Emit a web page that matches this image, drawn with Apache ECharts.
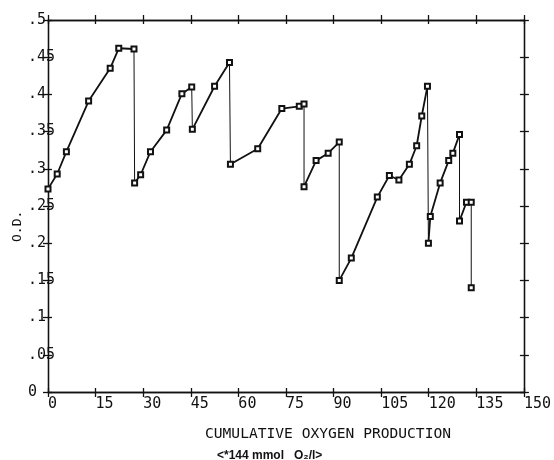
<!DOCTYPE html>
<html>
<head>
<meta charset="utf-8">
<script src="https://cdn.jsdelivr.net/npm/echarts@6/dist/echarts.min.js"></script>
<style>html,body{margin:0;padding:0;background:#fff;}#c{width:554px;height:460px;}</style>
</head>
<body>
<div id="c"></div>
<script>
// Cumulative oxygen production (x) and optical density (y)
const xVals = [0, 2.9, 5.8, 12.8, 19.6, 22.3, 27.1, 27.3, 29.2, 32.3, 37.4, 42.2, 45.3, 45.5, 52.5, 57.2, 57.5, 66.1, 73.7, 79.2, 80.7, 80.7, 84.5, 88.3, 91.8, 91.8, 95.6, 103.8, 107.6, 110.6, 113.9, 116.2, 117.8, 119.6, 119.9, 120.5, 123.6, 126.3, 127.6, 129.7, 129.7, 131.9, 133.4, 133.4];
const odVals = [0.273, 0.293, 0.323, 0.391, 0.435, 0.462, 0.461, 0.281, 0.292, 0.323, 0.352, 0.401, 0.410, 0.353, 0.411, 0.443, 0.306, 0.327, 0.381, 0.384, 0.387, 0.276, 0.311, 0.321, 0.336, 0.150, 0.180, 0.262, 0.291, 0.285, 0.306, 0.331, 0.371, 0.411, 0.200, 0.236, 0.281, 0.311, 0.321, 0.346, 0.230, 0.255, 0.255, 0.140];
const xTicks = [0, 15, 30, 45, 60, 75, 90, 105, 120, 135, 150];
const yTicks = [0, 0.05, 0.1, 0.15, 0.2, 0.25, 0.3, 0.35, 0.4, 0.45, 0.5];
const xTitle = 'CUMULATIVE OXYGEN PRODUCTION';
const xSubtitle = '<*144 mmol   O\u2082/l>';
const yTitle = 'O.D.';

const INK = '#111';
const MONO = '"DejaVu Sans Mono", monospace';

// split into rising runs and sudden drops
const runs = [];
const drops = [];
let cur = [[xVals[0], odVals[0]]];
for (let i = 1; i < xVals.length; i++) {
  const isDrop = odVals[i] < odVals[i - 1] - 0.04;
  if (isDrop) {
    runs.push(cur);
    drops.push([[xVals[i - 1], odVals[i - 1]], [xVals[i], odVals[i]]]);
    cur = [[xVals[i], odVals[i]]];
  } else {
    cur.push([xVals[i], odVals[i]]);
  }
}
runs.push(cur);

const series = [];
drops.forEach(d => series.push({
  type: 'line', data: d, showSymbol: false, symbol: 'none',
  lineStyle: { color: INK, width: 1 }, silent: true, z: 2
}));
runs.forEach(r => series.push({
  type: 'line', data: r, symbol: 'emptyRect', symbolSize: 5, showSymbol: true,
  itemStyle: { color: INK, borderColor: INK, borderWidth: 1.5 },
  lineStyle: { color: INK, width: 1.8 }, silent: true, z: 3
}));

const xMin = xTicks[0], xMax = xTicks[xTicks.length - 1], xInt = xTicks[1] - xTicks[0];
const yMin = yTicks[0], yMax = yTicks[yTicks.length - 1], yInt = 0.05;

function xAx(position, inside, labels) {
  return {
    type: 'value', position, min: xMin, max: xMax, interval: xInt,
    axisLine: { show: true, onZero: false, lineStyle: { color: INK, width: 1.3 } },
    axisTick: { show: true, inside, length: inside ? 4 : 5, lineStyle: { color: INK, width: 1.3 } },
    splitLine: { show: false },
    axisLabel: labels ? {
      show: true, align: 'left', margin: 5, color: INK, fontFamily: MONO, fontSize: 15,
      showMinLabel: true, showMaxLabel: true, formatter: v => String(v)
    } : { show: false }
  };
}
function yAx(position, inside, labels) {
  return {
    type: 'value', position, min: yMin, max: yMax, interval: yInt,
    axisLine: { show: true, onZero: false, lineStyle: { color: INK, width: 1.3 } },
    axisTick: { show: true, inside, length: inside ? 4 : 5, lineStyle: { color: INK, width: 1.3 } },
    splitLine: { show: false },
    axisLabel: labels ? {
      show: true, align: 'left', margin: 20, color: INK, fontFamily: MONO, fontSize: 15,
      showMinLabel: true, showMaxLabel: true,
      formatter: v => {
        if (Math.abs(v) < 1e-9) return '0';
        let s = (+v.toFixed(2)).toString();
        return s.replace(/^0\./, '.');
      }
    } : { show: false }
  };
}

const chart = echarts.init(document.getElementById('c'), null, { renderer: 'canvas' });
chart.setOption({
  animation: false,
  backgroundColor: '#fff',
  grid: { left: 48, right: 27, top: 20, bottom: 68, containLabel: false },
  xAxis: [xAx('bottom', false, true), xAx('bottom', true, false), xAx('top', false, false), xAx('top', true, false)],
  yAxis: [yAx('left', false, true), yAx('left', true, false), yAx('right', false, false), yAx('right', true, false)],
  series: series.map(s => Object.assign(s, { xAxisIndex: 0, yAxisIndex: 0 })),
  graphic: [
    { type: 'text', left: 205, top: 427, style: { text: xTitle, fill: INK, font: '14.6px ' + MONO } },
    { type: 'text', left: 217, top: 450, style: { text: xSubtitle, fill: INK, font: 'bold 12px "Liberation Sans", sans-serif' } },
    { type: 'text', x: 11, y: 242, rotation: Math.PI / 2, style: { text: yTitle, fill: INK, font: '13px ' + MONO } }
  ]
});
</script>
</body>
</html>
